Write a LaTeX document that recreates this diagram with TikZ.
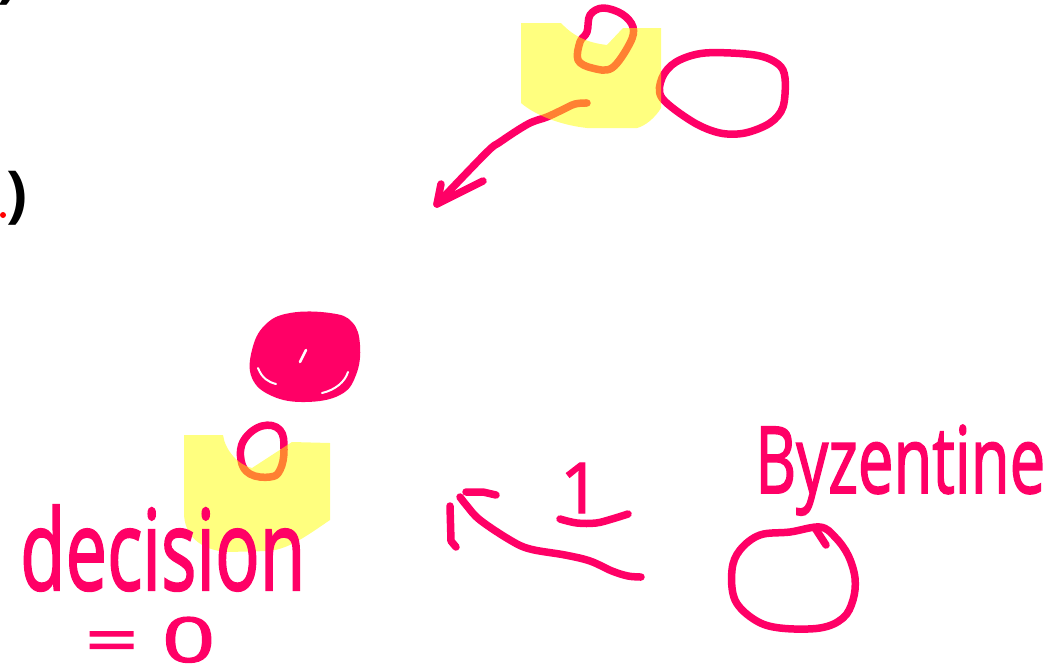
\documentclass[tikz,border=0pt]{standalone}
\usepackage{fontspec}
\setmainfont{Open Sans}
\newfontfamily\inkfont[FakeBold=2]{Open Sans}
\usepackage{graphicx}
\definecolor{inkpink}{RGB}{255,0,102}
\definecolor{hiyellow}{RGB}{255,255,0}
\tikzset{
  ink/.style={draw=inkpink, line width=7.5pt, line cap=round, line join=round},
  hilite/.style={fill=hiyellow, fill opacity=0.5, draw=none},
  inktext/.style={text=inkpink, inner sep=0pt, anchor=base west, font=\inkfont},
}
\begin{document}
\begin{tikzpicture}[x=1pt,y=-1pt]
\useasboundingbox (0,0) rectangle (1052,670);
\clip (0,0) rectangle (1052,670);
\fill[white] (0,0) rectangle (1052,670);

% cut-off text at the left edge
\node[inner sep=0pt, font=\fontsize{62}{62}\selectfont\bfseries] (parA) at (8,-22) {)};
\node[inner sep=0pt, font=\fontsize{62}{62}\selectfont\bfseries] (parB) at (17,198) {)};
\fill[red] (3,215) circle (3);

% --- top group ---
\draw[ink] plot[smooth cycle, tension=0.6] coordinates {(587,32) (590,15) (603,8) (622,14) (633,27) (630,43) (612,68) (592,68) (578,60) (580,42)};
\draw[ink] plot[smooth cycle, tension=0.55] coordinates {(705,53) (755,55) (778,64) (785,78) (783,107) (770,123) (745,133) (720,133) (693,122) (662,98) (662,78) (676,62)};
\coordinate (a1start) at (587,103);
\coordinate (a1tip) at (437,204);
\draw[ink] plot[smooth, tension=0.6] coordinates {(a1start) (575,104) (562,110) (547,117) (528,124) (500,142) (486,153) (a1tip)};
\draw[ink] (441,184) -- (a1tip) -- (483,181);
\fill[hilite] (521,23) -- (561,23) .. controls (575,38) and (590,43) .. (607,45) -- (623,28) -- (661,28) -- (661,108) .. controls (655,118) and (645,126) .. (637,128) -- (587,128) .. controls (560,125) and (535,115) .. (521,103) -- cycle;

% --- left group ---
\fill[inkpink] plot[smooth cycle, tension=0.7] coordinates {(290,313) (330,313) (352,322) (360,345) (356,375) (340,395) (305,402) (272,396) (252,378) (252,350) (265,325)};
\draw[white, line width=2.5pt, line cap=round] (300,362) -- (306,350);
\draw[white, line width=2pt, line cap=round] (258,368) .. controls (262,378) and (268,382) .. (276,384);
\draw[white, line width=2pt, line cap=round] (322,393) .. controls (335,390) and (345,382) .. (348,372);
\draw[ink] plot[smooth cycle, tension=0.7] coordinates {(262,426) (280,430) (284,450) (280,470) (270,477) (250,474) (241,460) (244,440)};
\fill[hilite] (184,435) -- (223,435) .. controls (225,450) and (238,465) .. (252,468) -- (292,442) -- (330,443) -- (330,520) .. controls (305,537) and (290,548) .. (270,551) -- (227,552) .. controls (200,550) and (184,535) .. (184,513) -- cycle;

\node[inktext] (decision) at (20,590) {\resizebox{285pt}{85pt}{decision}};
\node[inktext] (eqzero) at (85,662) {\resizebox{130pt}{45pt}{= 0}};

% --- bottom right group ---
\coordinate (a2start) at (641,577);
\coordinate (a2tip) at (460,497);
\draw[ink] plot[smooth, tension=0.6] coordinates {(a2start) (628,576) (612,571) (590,561) (565,555) (530,549) (510,540) (480,520) (467,506) (a2tip)};
\draw[ink] (466,492) -- (483,492) -- (496,495);
\draw[ink] (450,506) -- (451,541) -- (456,547);
\node[inktext] (one) at (560,513) {\resizebox{40pt}{50pt}{1}};
\draw[ink] plot[smooth, tension=0.6] coordinates {(560,519) (577,523) (596,523) (612,519) (628,514)};

\node[inktext] (byz) at (755,493) {\resizebox{290pt}{68pt}{Byzentine}};
\draw[ink] plot[smooth cycle, tension=0.6] coordinates {(790,532) (820,527) (835,537) (848,555) (855,578) (853,600) (843,618) (820,628) (780,628) (755,620) (735,600) (732,570) (740,550) (760,535)};
\draw[ink] (815,528) -- (826,545);
\end{tikzpicture}
\end{document}
